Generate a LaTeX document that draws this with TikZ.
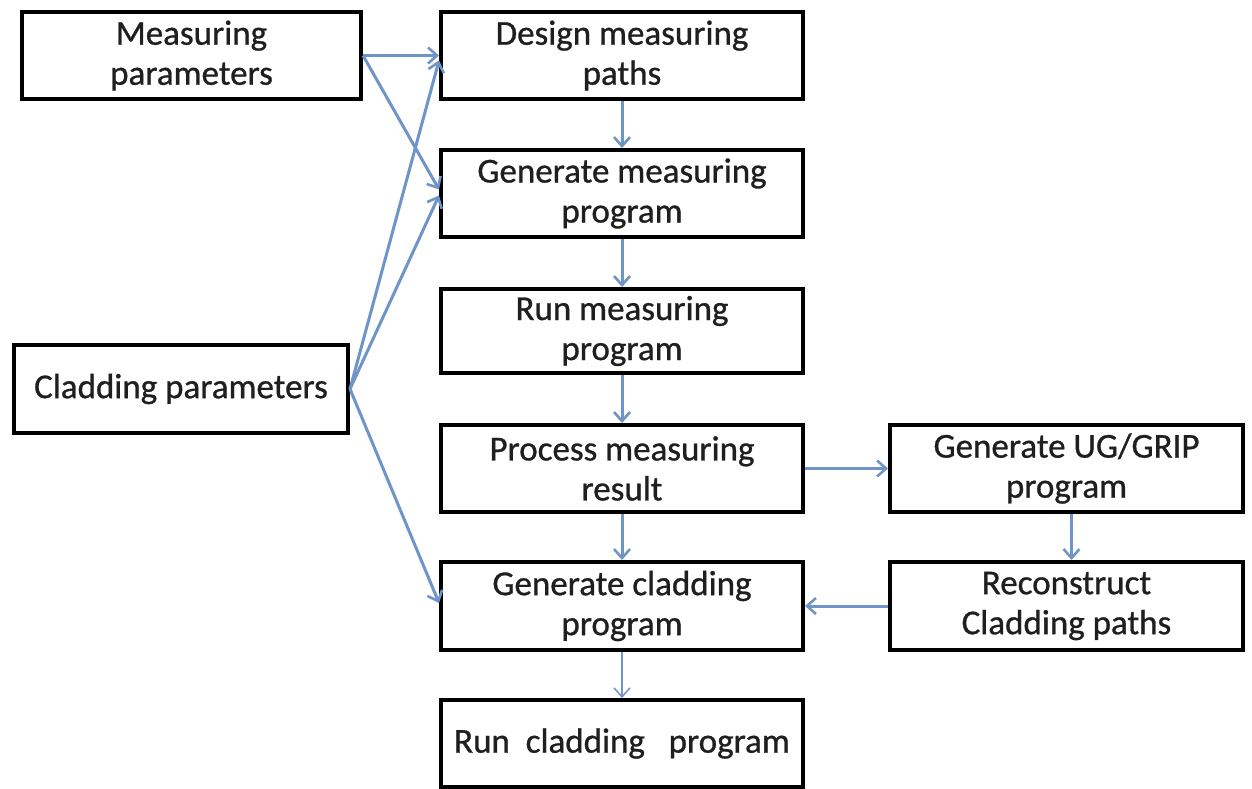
\documentclass[tikz,border=0pt]{standalone}
\usepackage{fontspec}
\setmainfont{Carlito}
\newfontfamily\boxfont{Carlito}[FakeBold=0.8]
\usetikzlibrary{arrows.meta,calc}
\definecolor{arrowblue}{RGB}{110,148,200}
\tikzset{
  flowbox/.style={draw=black, line width=4pt, align=center, inner sep=0pt,
    font=\boxfont\fontsize{35}{40}\selectfont, text=black!88},
  flowarrow/.style={draw=arrowblue, line width=3pt,
    -{Straight Barb[length=9pt,width=16pt,line width=2.6pt]}},
  thinarrow/.style={draw=arrowblue, line width=1.5pt,
    -{Straight Barb[length=9pt,width=16pt,line width=1.5pt]}}
}
\begin{document}
\begin{tikzpicture}[x=1pt,y=-1pt]
\useasboundingbox (0,0) rectangle (1252,789);
\node[flowbox, minimum width=339pt, minimum height=87pt] (mp) at (191.5,55.5) {Measuring\\parameters};
\node[flowbox, minimum width=362pt, minimum height=87pt] (dp) at (622,55.5) {Design measuring\\paths};
\node[flowbox, minimum width=362pt, minimum height=87pt] (gm) at (622,193.5) {Generate measuring\\program};
\node[flowbox, minimum width=362pt, minimum height=84pt] (rm) at (622,331) {Run measuring\\program};
\node[flowbox, minimum width=334pt, minimum height=88pt] (cp) at (181,389) {Cladding parameters};
\node[flowbox, minimum width=362pt, minimum height=87pt] (pr) at (622,468.5) {Process measuring\\result};
\node[flowbox, minimum width=353pt, minimum height=87pt] (ug) at (1066.5,468.5) {Generate UG/GRIP\\program};
\node[flowbox, minimum width=362pt, minimum height=88pt] (gc) at (622,606) {Generate cladding\\program};
\node[flowbox, minimum width=353pt, minimum height=88pt] (rc) at (1066.5,606) {Reconstruct\\Cladding paths};
\node[flowbox, minimum width=362pt, minimum height=87pt] (rcl) at (622,743.5) {Run\ \ cladding\ \ \ program};

\draw[flowarrow] (mp.east) -- (dp.west);
\draw[flowarrow] (mp.east) -- ($(gm.west)+(0,-4)$);
\draw[flowarrow] (cp.east) -- ($(dp.west)+(0,5)$);
\draw[flowarrow] (cp.east) -- ($(gm.west)+(0,2)$);
\draw[flowarrow] (cp.east) -- ($(gc.west)+(0,-3)$);
\draw[flowarrow] (dp.south) -- (gm.north);
\draw[flowarrow] (gm.south) -- (rm.north);
\draw[flowarrow] (rm.south) -- (pr.north);
\draw[flowarrow] (pr.south) -- (gc.north);
\draw[thinarrow] (gc.south) -- (rcl.north);
\draw[flowarrow] (pr.east) -- (ug.west);
\draw[flowarrow] ($(ug.south)+(5,0)$) -- ($(rc.north)+(5,0)$);
\draw[flowarrow] (rc.west) -- (gc.east);
\end{tikzpicture}
\end{document}
